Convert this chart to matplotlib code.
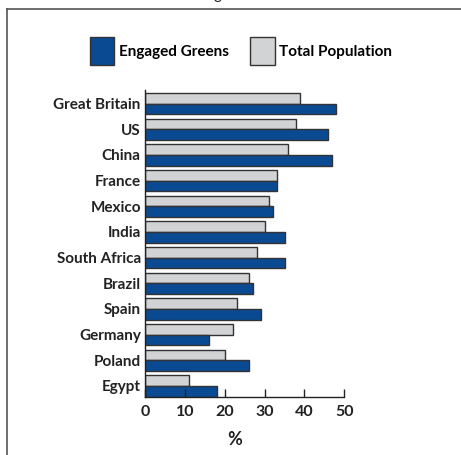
import matplotlib.pyplot as plt
from matplotlib.lines import Line2D
from matplotlib.patches import Patch

plt.rcParams['font.family'] = ['Lato', 'DejaVu Sans']

countries = ['Great Britain', 'US', 'China', 'France', 'Mexico', 'India',
             'South Africa', 'Brazil', 'Spain', 'Germany', 'Poland', 'Egypt']
engaged = [48, 46, 47, 33, 32, 35, 35, 27, 29, 16, 26, 18]
total = [39, 38, 36, 33, 31, 30, 28, 26, 23, 22, 20, 11]

blue = '#0a4a92'
gray = '#d2d3d5'
edge = '#333333'

W, H = 461, 455
fig = plt.figure(figsize=(W / 100, H / 100), dpi=100)
ax = fig.add_axes([145 / W, 1 - 397 / H, 199.3 / W, 307 / H])

h = 0.415
pos = list(range(len(countries)))
ax.barh([p - h / 2 for p in pos], total, height=h, color=gray,
        edgecolor=edge, linewidth=1)
ax.barh([p + h / 2 for p in pos], engaged, height=h, color=blue,
        edgecolor=edge, linewidth=1)

ax.set_xlim(0, 50)
ax.set_ylim(11.43, -0.53)
ax.set_yticks(pos)
ax.set_yticklabels(countries, fontsize=11, fontweight='bold', color='#222222')
ax.set_xticks([0, 10, 20, 30, 40, 50])
ax.tick_params(axis='y', length=0, pad=3)
ax.tick_params(axis='x', direction='in', length=6, width=1, color='#222222',
               labelsize=11.5, pad=6, labelcolor='#222222')
for lab in ax.get_xticklabels():
    lab.set_fontweight('bold')
ax.spines['top'].set_visible(False)
ax.spines['right'].set_visible(False)
for s in ['left', 'bottom']:
    ax.spines[s].set_color('#222222')
    ax.spines[s].set_linewidth(1)

ax.set_xlabel('%', fontsize=13, fontweight='bold', color='#222222')
ax.xaxis.set_label_coords(0.449, -0.11)

handles = [Patch(facecolor=blue, edgecolor=edge), Patch(facecolor=gray, edgecolor=edge)]
fig.legend(handles, ['Engaged Greens', 'Total Population'], loc='center',
           bbox_to_anchor=(241 / W, 1 - 51 / H), ncol=2, frameon=False,
           prop={'weight': 'bold', 'size': 11}, handlelength=1.6,
           handleheight=2.5, handletextpad=0.3, columnspacing=1.4)

# frame lines
fig.add_artist(Line2D([6.5 / W, 6.5 / W], [0, 1 - 8.5 / H], color='#555555', lw=1.2))
fig.add_artist(Line2D([6.5 / W, 1], [1 - 8.5 / H, 1 - 8.5 / H], color='#555555', lw=1.2))
# cut-off title (only a descender shows)
fig.text(217 / W, 1 + 1 / H, 'g', ha='center', va='baseline', fontsize=11,
         color='#222222')

fig.savefig('out.png', dpi=100)
